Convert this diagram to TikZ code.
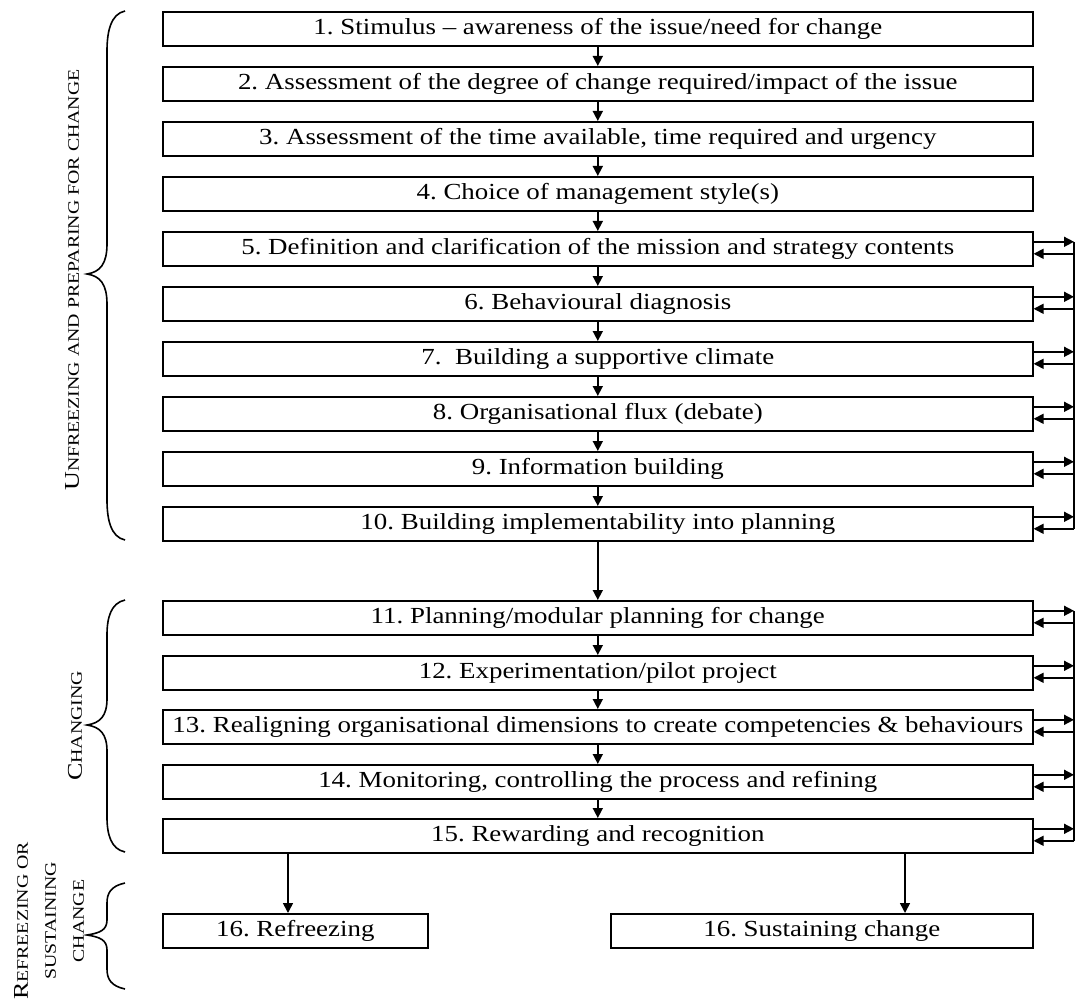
\documentclass[tikz,border=0pt]{standalone}
\usepackage{fontspec}
\setmainfont{Liberation Serif}
\newfontfamily\boxfont[FakeStretch=1.17,Ligatures=TeX]{Liberation Serif}
\newfontfamily\labfont[FakeStretch=1.24,Ligatures=TeX]{Liberation Serif}
\usetikzlibrary{arrows.meta}
\frenchspacing
\newcommand\mybrace[4]{%
  \draw[bline] (125,#1) .. controls (111,{#1+3}) and (107,{#1+0.5*#4}) .. (107,{#1+#4})
    -- (107,{#2-0.75*#4}) .. controls (107,{#2-0.25*#4}) and (100,{#2-2}) .. (87,#2)
    .. controls (100,{#2+2}) and (107,{#2+0.25*#4}) .. (107,{#2+0.75*#4})
    -- (107,{#3-#4}) .. controls (107,{#3-0.5*#4}) and (111,{#3-3}) .. (125,#3);}
\newcommand\bigsc[2]{{\fontsize{21}{24}\selectfont #1}{\fontsize{16}{28}\selectfont #2}}
\begin{document}
\begin{tikzpicture}[x=1pt,y=-1pt,
  box/.style={draw, line width=1.6pt, minimum width=870pt, minimum height=34pt,
    inner sep=0pt, anchor=north west, font=\boxfont\fontsize{23}{26}\selectfont\frenchspacing},
  arr/.style={line width=1.6pt, -{Triangle[length=10pt,width=10pt]}},
  bline/.style={line width=1.6pt},
  lab/.style={rotate=90, anchor=center, align=center, inner sep=0pt,
    font=\labfont\fontsize{16}{28}\selectfont}]
\useasboundingbox (0,0) rectangle (1075,1000);
% boxes stage 1
\node[box] (b1)  at (162,11)  {1. Stimulus – awareness of the issue/need for change};
\node[box] (b2)  at (162,66)  {2. Assessment of the degree of change required/impact of the issue};
\node[box] (b3)  at (162,121) {3. Assessment of the time available, time required and urgency};
\node[box] (b4)  at (162,176) {4. Choice of management style(s)};
\node[box] (b5)  at (162,231) {5. Definition and clarification of the mission and strategy contents};
\node[box] (b6)  at (162,286) {6. Behavioural diagnosis};
\node[box] (b7)  at (162,341) {7.\ \ Building a supportive climate};
\node[box] (b8)  at (162,396) {8. Organisational flux (debate)};
\node[box] (b9)  at (162,451) {9. Information building};
\node[box] (b10) at (162,506) {10. Building implementability into planning};
% stage 2
\node[box] (b11) at (162,600) {11. Planning/modular planning for change};
\node[box] (b12) at (162,655) {12. Experimentation/pilot project};
\node[box] (b13) at (162,709) {13. Realigning organisational dimensions to create competencies \& behaviours};
\node[box] (b14) at (162,764) {14. Monitoring, controlling the process and refining};
\node[box] (b15) at (162,818) {15. Rewarding and recognition};
% stage 3
\node[box, minimum width=265pt] (b16a) at (162,913) {16. Refreezing};
\node[box, minimum width=422pt] (b16b) at (610,913) {16. Sustaining change};
% down arrows
\foreach \i [evaluate=\i as \j using int(\i+1)] in {1,...,14}{
  \draw[arr] (b\i.south) -- (b\j.north);
}
\coordinate (l16) at (288,913);
\coordinate (r16) at (905,913);
\draw[arr] (b15.south -| l16) -- (l16);
\draw[arr] (b15.south -| r16) -- (r16);
% feedback rails
\coordinate (rail) at (1074,0);
\foreach \i in {5,...,15}{
  \draw[arr] ([yshift=7pt]b\i.east) -- ([yshift=7pt]b\i.east -| rail);
  \draw[arr] ([yshift=-5pt]b\i.east -| rail) -- ([yshift=-5pt]b\i.east);
}
\draw[bline] ([yshift=7pt]b5.east -| rail) -- ([yshift=-5pt]b10.east -| rail);
\draw[bline] ([yshift=7pt]b11.east -| rail) -- ([yshift=-5pt]b15.east -| rail);
% braces
\mybrace{11}{274}{540}{40}
\mybrace{600}{725}{852}{35}
\mybrace{883}{935}{989}{20}
% labels
\node[lab] (lu) at (72,280) {\bigsc{U}{NFREEZING AND PREPARING FOR CHANGE}};
\node[lab] (lc) at (75,726) {\bigsc{C}{HANGING}};
\node[lab] (lr) at (49,921) {\bigsc{R}{EFREEZING OR}\\SUSTAINING\\CHANGE};
\end{tikzpicture}
\end{document}
